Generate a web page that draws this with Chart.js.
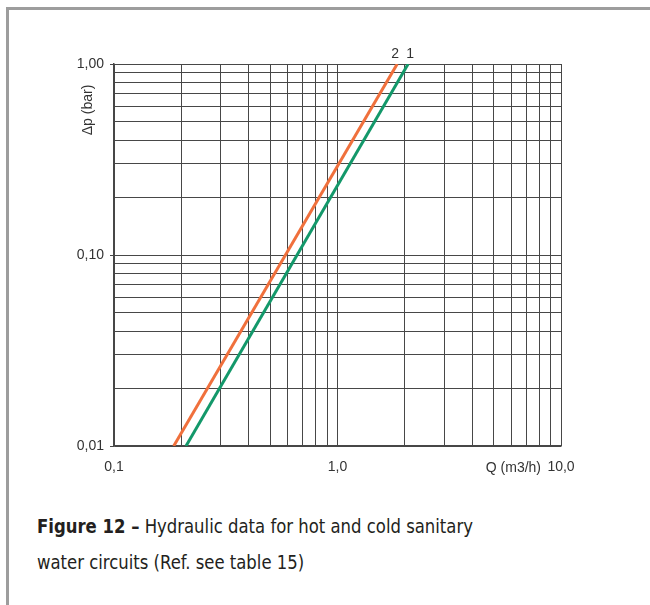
<!DOCTYPE html>
<html>
<head>
<meta charset="utf-8">
<script src="https://cdn.jsdelivr.net/npm/chart.js@4/dist/chart.umd.min.js"></script>
<style>
    html, body { margin: 0; padding: 0; background: #fff; overflow: hidden; }
    body { width: 650px; height: 605px; position: relative; }
    .frame {
        position: absolute; left: 6px; top: 7px; width: 700px; height: 700px;
        border-left: 3px solid #9d9d9d; border-top: 3px solid #9d9d9d;
    }
    #wrap { position: absolute; left: 0; top: 0; width: 650px; height: 500px; }
    .caption {
        position: absolute; left: 37px; top: 508px; width: 700px;
        font-family: "Liberation Sans Narrow", "DejaVu Sans Condensed", "Roboto", sans-serif;
        font-size: 20px; line-height: 36px; color: #231f20;
        transform: scaleX(0.916); transform-origin: left top;
    }
    .caption b { font-weight: bold; }
</style>
</head>
<body>
<div class="frame"></div>
<div id="wrap"><canvas id="myChart"></canvas></div>
<div class="caption"><b>Figure 12 –</b> Hydraulic data for hot and cold sanitary<br>water circuits (Ref. see table 15)</div>
<script>
// curve 1 (green) and curve 2 (orange): flow Q (m3/h) vs pressure drop (bar)
const series1Q = [0.21, 2.07];
const series1Dp = [0.01, 1.0];
const series2Q = [0.185, 1.85];
const series2Dp = [0.01, 1.0];

const xLabelValues = [0.1, 1, 10];
const xTickLabels = ['0,1', '1,0', '10,0'];
const yLabelValues = [0.01, 0.1, 1];
const yTickLabels = ['0,01', '0,10', '1,00'];
const seriesNames = ['1', '2'];

function logGrid(min, max) {
    let ticks = [];
    for (let e = Math.round(Math.log10(min)); e < Math.round(Math.log10(max)); e++) {
        for (let m = 1; m < 10; m++) {
            ticks.push({ value: Number((m * Math.pow(10, e)).toPrecision(3)) });
        }
    }
    ticks.push({ value: max });
    return ticks;
}

function labelFor(value, values, labels) {
    for (let i = 0; i < values.length; i++) {
        if (Math.abs(value - values[i]) < values[i] * 1e-6) return labels[i];
    }
    return '';
}

const textPlugin = {
    id: 'textPlugin',
    afterDraw(chart) {
        const ctx = chart.ctx;
        const area = chart.chartArea;
        const xs = chart.scales.x;
        ctx.save();
        ctx.fillStyle = '#333';
        ctx.font = '14px "Liberation Sans", Arial, sans-serif';

        // y title
        ctx.save();
        ctx.translate(area.left - 26, area.top + 46);
        ctx.rotate(-Math.PI / 2);
        ctx.textAlign = 'center';
        ctx.textBaseline = 'middle';
        ctx.fillText('Δp (bar)', 0, 0);
        ctx.restore();

        // x title
        ctx.textAlign = 'right';
        ctx.textBaseline = 'middle';
        ctx.fillText('Q (m3/h)', area.right - 20, area.bottom + 22);

        // curve numbers above the top ends
        ctx.textAlign = 'center';
        ctx.textBaseline = 'bottom';
        chart.data.datasets.forEach((ds, i) => {
            const last = ds.data[ds.data.length - 1];
            ctx.fillText(seriesNames[i], xs.getPixelForValue(last.x) + (i === 0 ? 2 : -2), area.top - 3);
        });
        ctx.restore();
    }
};

const gridColor = '#474747';

new Chart("myChart", {
    type: "scatter",
    data: {
        datasets: [{
            data: series1Q.map((q, i) => ({ x: q, y: series1Dp[i] })),
            borderColor: "#13986a",
            borderWidth: 3,
            showLine: true,
            pointRadius: 0
        }, {
            data: series2Q.map((q, i) => ({ x: q, y: series2Dp[i] })),
            borderColor: "#f0703c",
            borderWidth: 3,
            showLine: true,
            pointRadius: 0
        }]
    },
    options: {
        responsive: true,
        maintainAspectRatio: false,
        animation: false,
        layout: { padding: { top: 64, right: 89, left: 0, bottom: 0 } },
        plugins: { legend: { display: false }, tooltip: { enabled: false } },
        scales: {
            x: {
                type: 'logarithmic',
                min: 0.1,
                max: 10,
                afterBuildTicks: (scale) => { scale.ticks = logGrid(0.1, 10); },
                afterFit: (scale) => { scale.height = 54; },
                grid: { color: gridColor, lineWidth: 1, drawTicks: true, tickLength: 4, tickColor: 'transparent' },
                border: { color: gridColor, width: 1.5 },
                ticks: {
                    autoSkip: false,
                    maxRotation: 0,
                    padding: 9,
                    color: '#333',
                    font: { family: '"Liberation Sans", Arial, sans-serif', size: 14 },
                    callback: (v) => labelFor(v, xLabelValues, xTickLabels)
                }
            },
            y: {
                type: 'logarithmic',
                min: 0.01,
                max: 1,
                afterBuildTicks: (scale) => { scale.ticks = logGrid(0.01, 1); },
                afterFit: (scale) => { scale.width = 114; },
                grid: {
                    color: gridColor, lineWidth: 1, tickLength: 4,
                    tickColor: (c) => labelFor(c.tick.value, yLabelValues, yTickLabels) ? gridColor : 'transparent'
                },
                border: { color: gridColor, width: 1.5 },
                ticks: {
                    autoSkip: false,
                    padding: 6,
                    color: '#333',
                    font: { family: '"Liberation Sans", Arial, sans-serif', size: 14 },
                    callback: (v) => labelFor(v, yLabelValues, yTickLabels)
                }
            }
        }
    },
    plugins: [textPlugin]
});
</script>
</body>
</html>
